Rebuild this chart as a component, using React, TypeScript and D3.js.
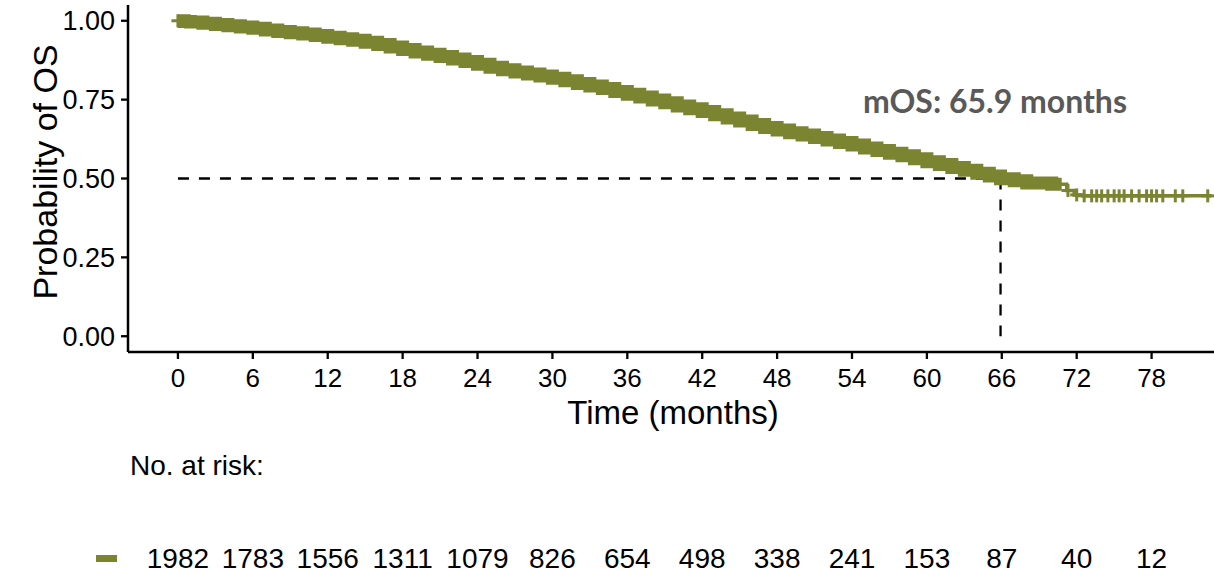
import React from "react";
import * as d3 from "d3";

// Kaplan–Meier estimate (months, survival probability)
const kmTimes = [
  0, 0.5, 1, 2, 3, 4, 5, 6, 7, 8, 9, 10, 11, 12, 13, 14, 15, 16, 17, 18, 19, 20,
  21, 22, 23, 24, 25, 26, 27, 28, 29, 30, 31, 32, 33, 34, 35, 36, 37, 38, 39, 40,
  41, 42, 43, 44, 45, 46, 47, 48, 49, 50, 51, 52, 53, 54, 55, 56, 57, 58, 59, 60,
  61, 62, 63, 64, 65, 65.9, 67, 68, 70, 71.2, 71.8, 72.5,
];
const kmSurv = [
  1.0, 0.998, 0.996, 0.992, 0.988, 0.984, 0.98, 0.976, 0.971, 0.966, 0.962, 0.958,
  0.953, 0.948, 0.943, 0.938, 0.932, 0.925, 0.917, 0.909, 0.901, 0.894, 0.887,
  0.879, 0.871, 0.862, 0.853, 0.845, 0.838, 0.831, 0.825, 0.818, 0.81, 0.801,
  0.793, 0.785, 0.776, 0.767, 0.758, 0.749, 0.74, 0.73, 0.721, 0.712, 0.702,
  0.692, 0.682, 0.671, 0.662, 0.654, 0.645, 0.638, 0.63, 0.622, 0.614, 0.606,
  0.597, 0.589, 0.58, 0.572, 0.563, 0.553, 0.544, 0.535, 0.526, 0.517, 0.508,
  0.499, 0.493, 0.486, 0.482, 0.462, 0.448, 0.445,
];
const lastFollowUp = 82.8;
const denseCensorEnd = 70.8; // heavily censored period (marks merge into a band)
const censorTimes = [
  0, 71.3, 72.0, 72.6, 73.2, 73.6, 74.0, 74.5, 75.0, 75.4, 75.8, 76.4, 77.0, 77.6,
  78.0, 78.4, 78.9, 79.9, 80.5, 82.5,
];
const medianOS = 65.9;

const xTickValues = [0, 6, 12, 18, 24, 30, 36, 42, 48, 54, 60, 66, 72, 78];
const yTickValues = [0, 0.25, 0.5, 0.75, 1.0];
const riskTimes = [0, 6, 12, 18, 24, 30, 36, 42, 48, 54, 60, 66, 72, 78];
const riskCounts = [1982, 1783, 1556, 1311, 1079, 826, 654, 498, 338, 241, 153, 87, 40, 12];

const W = 1214;
const H = 577;
const GREEN = "#7b8430";
const FONT = "'Liberation Sans', Arial, Helvetica, sans-serif";

function survAt(t: number): number {
  let s = kmSurv[0];
  for (let i = 0; i < kmTimes.length; i++) {
    if (kmTimes[i] <= t) s = kmSurv[i];
  }
  return s;
}

export default function App() {
  const x = d3.scaleLinear().domain([-4, 83]).range([128, 1214]);
  const y = d3.scaleLinear().domain([-0.05, 1.05]).range([352, 5]);

  const pts: [number, number][] = kmTimes.map((t, i) => [t, kmSurv[i]]);
  pts.push([lastFollowUp, kmSurv[kmSurv.length - 1]]);

  const line = d3
    .line<[number, number]>()
    .x((d) => x(d[0]))
    .y((d) => y(d[1]))
    .curve(d3.curveStepAfter);

  const bandPts: [number, number][] = pts.filter((d) => d[0] <= denseCensorEnd);
  bandPts.push([denseCensorEnd, survAt(denseCensorEnd)]);

  const fmt = d3.format(".2f");

  return (
    <svg
      width={W}
      height={H}
      style={{ position: "absolute", left: 0, top: 0, display: "block", background: "#fff" }}
      fontFamily={FONT}
    >
      <rect x={0} y={0} width={W} height={H} fill="#fff" />

      {/* median reference lines */}
      <line
        x1={x(0)}
        x2={x(medianOS)}
        y1={y(0.5)}
        y2={y(0.5)}
        stroke="#000"
        strokeWidth={2.3}
        strokeDasharray="11,10"
      />
      <line
        x1={x(medianOS)}
        x2={x(medianOS)}
        y1={y(0.5)}
        y2={y(0)}
        stroke="#000"
        strokeWidth={2.3}
        strokeDasharray="11,10"
      />

      {/* KM curve */}
      <path d={line(bandPts) || ""} fill="none" stroke={GREEN} strokeWidth={13} strokeLinejoin="miter" />
      <path d={line(pts) || ""} fill="none" stroke={GREEN} strokeWidth={3.5} />
      {censorTimes.map((t, i) => {
        const cx = x(t);
        const cy = y(survAt(t));
        return (
          <g key={i} stroke={GREEN} strokeWidth={3}>
            <line x1={cx - 6.5} x2={cx + 6.5} y1={cy} y2={cy} />
            <line x1={cx} x2={cx} y1={cy - 6.5} y2={cy + 6.5} />
          </g>
        );
      })}

      {/* axes */}
      <line x1={128} x2={128} y1={y(1.05)} y2={y(-0.05)} stroke="#000" strokeWidth={2.5} />
      <line x1={128} x2={W} y1={y(-0.05)} y2={y(-0.05)} stroke="#000" strokeWidth={2.5} />
      {yTickValues.map((v) => (
        <g key={"y" + v}>
          <line x1={121} x2={128} y1={y(v)} y2={y(v)} stroke="#000" strokeWidth={2.3} />
          <text x={115} y={y(v)} dy="0.36em" textAnchor="end" fontSize={27} fill="#000">
            {fmt(v)}
          </text>
        </g>
      ))}
      {xTickValues.map((v) => (
        <g key={"x" + v}>
          <line x1={x(v)} x2={x(v)} y1={352} y2={359} stroke="#000" strokeWidth={2.3} />
          <text x={x(v)} y={387} textAnchor="middle" fontSize={26} fill="#000">
            {v}
          </text>
        </g>
      ))}

      {/* axis titles */}
      <text x={673} y={424} textAnchor="middle" fontSize={33} fill="#000">
        Time (months)
      </text>
      <text
        transform="translate(57,172) rotate(-90)"
        textAnchor="middle"
        fontSize={34}
        fill="#000"
      >
        Probability of OS
      </text>

      {/* median annotation */}
      <text
        x={995}
        y={113}
        textAnchor="middle"
        fontFamily="Lato, 'Open Sans', sans-serif"
        fontWeight={700}
        fontSize={32}
        fill="#595959"
        textLength={264}
        lengthAdjust="spacingAndGlyphs"
      >
        mOS: 65.9 months
      </text>

      {/* number at risk */}
      <text x={130} y={475} fontSize={28} fill="#000">
        No. at risk:
      </text>
      <rect x={96} y={555} width={21} height={7} fill={GREEN} />
      {riskTimes.map((t, i) => (
        <text key={"r" + t} x={x(t)} y={568} textAnchor="middle" fontSize={28} fill="#000">
          {riskCounts[i]}
        </text>
      ))}
    </svg>
  );
}
